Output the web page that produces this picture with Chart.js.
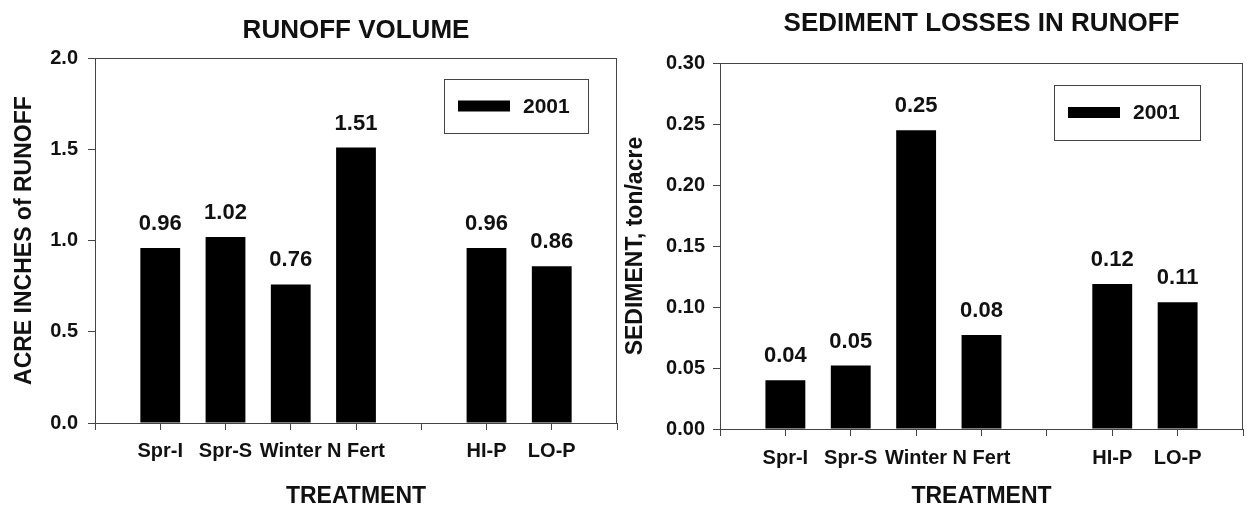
<!DOCTYPE html>
<html>
<head>
<meta charset="utf-8">
<script src="https://cdn.jsdelivr.net/npm/chart.js@4.4.1/dist/chart.umd.min.js"></script>
<style>
  html, body { margin: 0; padding: 0; background: #fff; }
  #wrap { position: relative; width: 1247px; height: 510px; overflow: hidden; }
  #left { position: absolute; left: 0; top: 0; }
  #right { position: absolute; left: 620px; top: 0; }
</style>
</head>
<body>
<div id="wrap">
  <canvas id="left" width="620" height="510"></canvas>
  <canvas id="right" width="627" height="510"></canvas>
</div>
<script>
// treatments along the x axis (blank slot = gap between the two groups)
const treatments = ["Spr-I", "Spr-S", "Winter", "N Fert", "", "HI-P", "LO-P"];
const seriesName = "2001";

// runoff volume, acre inches
const runoff = [0.96, 1.02, 0.76, 1.51, null, 0.96, 0.86];
const runoffText = ["0.96", "1.02", "0.76", "1.51", "", "0.96", "0.86"];
const runoffTicks = [0, 0.5, 1.0, 1.5, 2.0];

// sediment, ton/acre (bar heights, labels as printed)
const sediment = [0.040, 0.052, 0.245, 0.077, null, 0.119, 0.104];
const sedimentText = ["0.04", "0.05", "0.25", "0.08", "", "0.12", "0.11"];
const sedimentTicks = [0, 0.05, 0.10, 0.15, 0.20, 0.25, 0.30];

const FONT = "'Liberation Sans', Arial, Helvetica, sans-serif";
const INK = "#111";
const LINE = "#444";

const pad = (arr, v) => [v, ...arr, v];

// value labels over bars, plot frame and the boxed legend inside the plot
const frameAndLabels = {
    id: "frameAndLabels",
    afterDatasetsDraw(chart, args, opts) {
        const ctx = chart.ctx;
        const a = chart.chartArea;
        const meta = chart.getDatasetMeta(0);
        ctx.save();

        ctx.fillStyle = INK;
        ctx.font = "bold 22px " + FONT;
        ctx.textAlign = "center";
        ctx.textBaseline = "middle";
        meta.data.forEach((bar, i) => {
            const txt = opts.texts[i];
            if (!txt) return;
            ctx.fillText(txt, bar.x, bar.y - opts.gap);
        });

        ctx.strokeStyle = LINE;
        ctx.lineWidth = 1;
        ctx.strokeRect(Math.round(a.left) + 0.5, Math.round(a.top) + 0.5,
            Math.round(a.right - a.left) - 1, Math.round(a.bottom - a.top));

        const b = opts.box;
        const bx = Math.round(a.right - b.right - b.width);
        const by = Math.round(a.top + b.top);
        ctx.fillStyle = "#fff";
        ctx.fillRect(bx, by, b.width, b.height);
        ctx.strokeRect(bx + 0.5, by + 0.5, b.width, b.height);
        const ds = chart.data.datasets[0];
        ctx.fillStyle = ds.backgroundColor;
        ctx.fillRect(bx + 14, by + b.height / 2 - 5.5, 52, 11);
        ctx.fillStyle = INK;
        ctx.font = "bold 21px " + FONT;
        ctx.textAlign = "left";
        ctx.fillText(ds.label, bx + 79, by + b.height / 2 + 1);

        ctx.restore();
    }
};

const makeChart = (id, cfg) => {
    const ticks = cfg.ticks;
    return new Chart(document.getElementById(id), {
        type: "bar",
        data: {
            labels: pad(treatments, ""),
            datasets: [{
                label: seriesName,
                data: pad(cfg.values, null),
                backgroundColor: "#000",
                borderWidth: 0,
                categoryPercentage: 0.61,
                barPercentage: 1
            }]
        },
        options: {
            responsive: false,
            animation: false,
            devicePixelRatio: 1,
            layout: { padding: { left: 0, right: cfg.padRight, top: 0, bottom: 0 } },
            plugins: {
                legend: { display: false },
                tooltip: { enabled: false },
                title: {
                    display: true,
                    fullSize: false,
                    text: cfg.title,
                    color: INK,
                    font: { family: FONT, size: 26, weight: "bold" },
                    padding: { top: cfg.titleTop, bottom: cfg.titleBottom }
                },
                frameAndLabels: { texts: pad(cfg.texts, ""), gap: 24, box: cfg.box }
            },
            scales: {
                x: {
                    offset: false,
                    grid: { offset: false, drawOnChartArea: false, drawTicks: true, tickLength: 7, color: LINE },
                    border: { color: LINE },
                    ticks: {
                        color: INK,
                        font: { family: FONT, size: 20, weight: "bold" },
                        padding: cfg.xTickPad,
                        maxRotation: 0,
                        autoSkip: false
                    },
                    title: {
                        display: true,
                        text: "TREATMENT",
                        color: INK,
                        font: { family: FONT, size: 23, weight: "bold" },
                        padding: { top: cfg.xTitlePad, bottom: 0 }
                    },
                    afterFit: s => {
                        s.height = cfg.xHeight;
                        s.paddingLeft = 0;
                        s.paddingRight = 0;
                    }
                },
                y: {
                    min: ticks[0],
                    max: ticks[ticks.length - 1],
                    grid: { drawOnChartArea: false, drawTicks: true, tickLength: 7, color: LINE },
                    border: { color: LINE },
                    ticks: {
                        stepSize: ticks[1] - ticks[0],
                        color: INK,
                        font: { family: FONT, size: 20, weight: "bold" },
                        padding: cfg.yTickPad,
                        callback: v => Number(v).toFixed(cfg.decimals)
                    },
                    title: {
                        display: true,
                        text: cfg.yTitle,
                        color: INK,
                        font: { family: FONT, size: 23, weight: "bold" },
                        padding: { top: cfg.yTitlePad, bottom: 0 }
                    },
                    afterFit: s => { s.width = cfg.yWidth; }
                }
            }
        },
        plugins: [frameAndLabels]
    });
};

makeChart("left", {
    title: "RUNOFF VOLUME",
    yTitle: "ACRE INCHES of RUNOFF",
    values: runoff,
    texts: runoffText,
    ticks: runoffTicks,
    decimals: 1,
    padRight: 3,
    titleTop: 15,
    titleBottom: 12,
    xHeight: 87,
    xTickPad: 9,
    xTitlePad: 1,
    yWidth: 95,
    yTitlePad: 11,
    yTickPad: 10,
    box: { right: 29, top: 21, width: 144, height: 54 }
});

makeChart("right", {
    title: "SEDIMENT LOSSES IN RUNOFF",
    yTitle: "SEDIMENT, ton/acre",
    values: sediment,
    texts: sedimentText,
    ticks: sedimentTicks,
    decimals: 2,
    padRight: 4,
    titleTop: 8,
    titleBottom: 24,
    xHeight: 81,
    xTickPad: 10,
    xTitlePad: 0,
    yWidth: 100,
    yTitlePad: 2,
    yTickPad: 8,
    box: { right: 43, top: 22, width: 146, height: 55 }
});
</script>
</body>
</html>
